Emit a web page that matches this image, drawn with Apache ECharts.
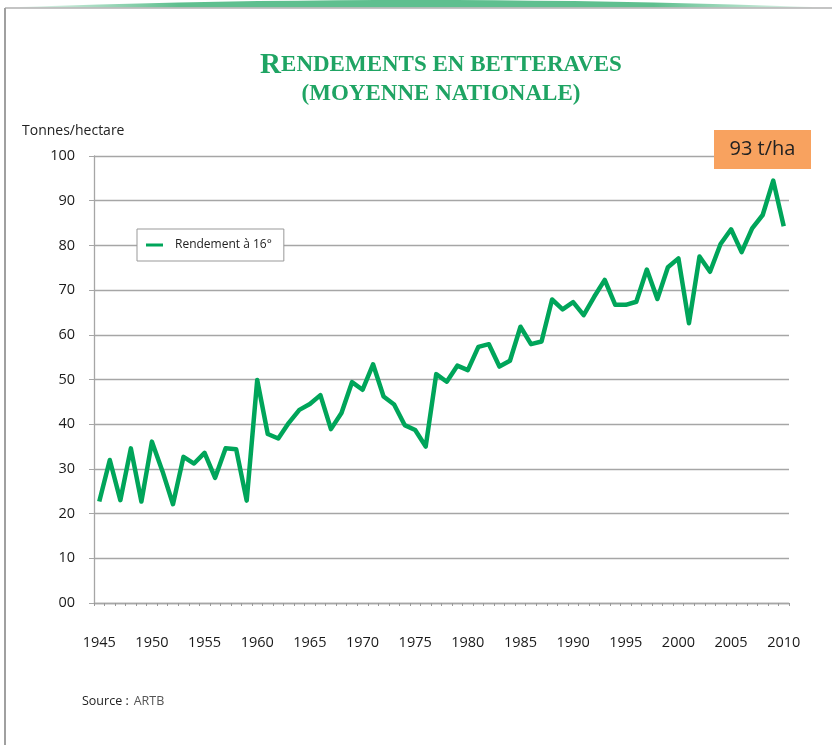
<!DOCTYPE html>
<html>
<head>
<meta charset="utf-8">
<script src="https://cdn.jsdelivr.net/npm/echarts@6/dist/echarts.min.js"></script>
<style>
html,body{margin:0;padding:0;background:#fff;}
#chart{width:832px;height:745px;}
</style>
</head>
<body>
<div id="chart"></div>
<script>
const years = [];
for (let y = 1945; y <= 2010; y++) years.push(String(y));
const rendement = [
  22.7, 32.0, 23.0, 34.6, 22.7, 36.1, 29.5, 22.1, 32.7, 31.2,
  33.6, 28.0, 34.6, 34.4, 22.9, 49.9, 37.8, 36.8, 40.3, 43.2,
  44.5, 46.5, 38.9, 42.5, 49.4, 47.7, 53.4, 46.2, 44.4, 39.8,
  38.7, 35.0, 51.2, 49.5, 53.1, 52.1, 57.3, 57.9, 52.9, 54.2,
  61.8, 57.9, 58.5, 67.9, 65.7, 67.3, 64.4, 68.5, 72.3, 66.7,
  66.7, 67.4, 74.6, 68.0, 75.1, 77.1, 62.6, 77.5, 74.1, 80.3,
  83.6, 78.5, 83.8, 86.8, 94.5, 84.3
];
const seriesName = 'Rendement à 16°';
const annotationText = '93 t/ha';

const chart = echarts.init(document.getElementById('chart'));
const labelFont = '"Open Sans", sans-serif';
const green = '#00a55a';
const gridGray = '#a6a6a6';

// decorative top band (curved)
const bandPts = [];
for (let i = 0; i <= 20; i++) {
  const x = 20 + i * (792 / 20);
  const t = (x - 416) / 396;
  bandPts.push([x, 7 - 7 * (1 - t * t)]);
}
bandPts.push([812, 7.5], [20, 7.5]);

chart.setOption({
  animation: false,
  backgroundColor: '#ffffff',
  title: [
    {
      text: '{big|R}{sm|ENDEMENTS EN BETTERAVES}\n{sm|(MOYENNE NATIONALE)}',
      left: 436,
      top: 46,
      textAlign: 'center',
      textStyle: {
        rich: {
          big: { fontFamily: '"Liberation Serif", serif', fontSize: 29, fontWeight: 'bold', color: '#1fa463', lineHeight: 29 },
          sm: { fontFamily: '"Liberation Serif", serif', fontSize: 23, fontWeight: 'bold', color: '#1fa463', lineHeight: 29 }
        }
      }
    },
    {
      text: 'Tonnes/hectare',
      left: 22,
      top: 124,
      padding: 0,
      textStyle: { fontFamily: labelFont, fontSize: 14, fontWeight: 'normal', color: '#222' }
    },
    {
      text: '{a|Source :} {b|ARTB}',
      left: 82,
      top: 692,
      padding: 0,
      textStyle: {
        fontWeight: 'normal',
        rich: {
          a: { fontFamily: labelFont, fontSize: 12.5, fontWeight: 'normal', color: '#222' },
          b: { fontFamily: labelFont, fontSize: 12.5, fontWeight: 'normal', color: '#555' }
        }
      }
    }
  ],
  legend: {
    data: [{ name: seriesName, icon: 'rect' }],
    left: 137,
    top: 229,
    orient: 'vertical',
    itemWidth: 17,
    itemHeight: 3,
    padding: [10, 12, 10, 9],
    backgroundColor: '#ffffff',
    borderColor: '#999',
    borderWidth: 1,
    borderRadius: 0,
    textStyle: { fontFamily: labelFont, fontSize: 12, color: '#222', padding: [0, 0, 0, 7] }
  },
  grid: { left: 94, right: 43, top: 156, bottom: 142, containLabel: false },
  xAxis: {
    type: 'category',
    data: years,
    boundaryGap: true,
    axisLine: { lineStyle: { color: gridGray, width: 1.3 } },
    axisTick: { show: true, interval: 0, length: 3, lineStyle: { color: '#999' } },
    axisLabel: {
      interval: 4,
      margin: 32,
      fontFamily: labelFont,
      fontSize: 14.5,
      color: '#1a1a1a'
    },
    splitLine: { show: false }
  },
  yAxis: {
    type: 'value',
    min: 0,
    max: 100,
    interval: 10,
    axisLine: { show: true, lineStyle: { color: gridGray, width: 1.3 } },
    axisTick: { show: true, length: 5, lineStyle: { color: gridGray } },
    axisLabel: {
      margin: 19,
      fontFamily: labelFont,
      fontSize: 14.5,
      color: '#1a1a1a',
      formatter: v => (v === 0 ? '00' : String(v))
    },
    splitLine: { show: true, lineStyle: { color: gridGray, width: 1.3 } }
  },
  series: [{
    name: seriesName,
    type: 'line',
    data: rendement,
    symbol: 'none',
    smooth: false,
    color: green,
    lineStyle: { color: green, width: 4.5, join: 'round' }
  }],
  graphic: [
    {
      type: 'polygon',
      shape: { points: bandPts },
      style: {
        fill: {
          type: 'linear', x: 0, y: 0, x2: 1, y2: 0,
          colorStops: [
            { offset: 0, color: 'rgba(95,191,143,0.15)' },
            { offset: 0.2, color: '#5fbf8f' },
            { offset: 0.8, color: '#5fbf8f' },
            { offset: 1, color: 'rgba(95,191,143,0.15)' }
          ]
        }
      },
      z: 10
    },
    { type: 'line', shape: { x1: 5, y1: 8, x2: 832, y2: 8 }, style: { stroke: '#b0b0b0', lineWidth: 1.5 }, z: 10 },
    { type: 'line', shape: { x1: 5, y1: 8, x2: 5, y2: 745 }, style: { stroke: '#a0a0a0', lineWidth: 2 }, z: 10 },
    {
      type: 'rect',
      shape: { x: 714, y: 130, width: 97, height: 39 },
      style: { fill: '#f8a25f' },
      z: 100
    },
    {
      type: 'text',
      x: 762.5,
      y: 149.5,
      z: 101,
      style: { text: annotationText, align: 'center', verticalAlign: 'middle', font: '20px "Open Sans", sans-serif', fill: '#222' }
    }
  ]
});
</script>
</body>
</html>
